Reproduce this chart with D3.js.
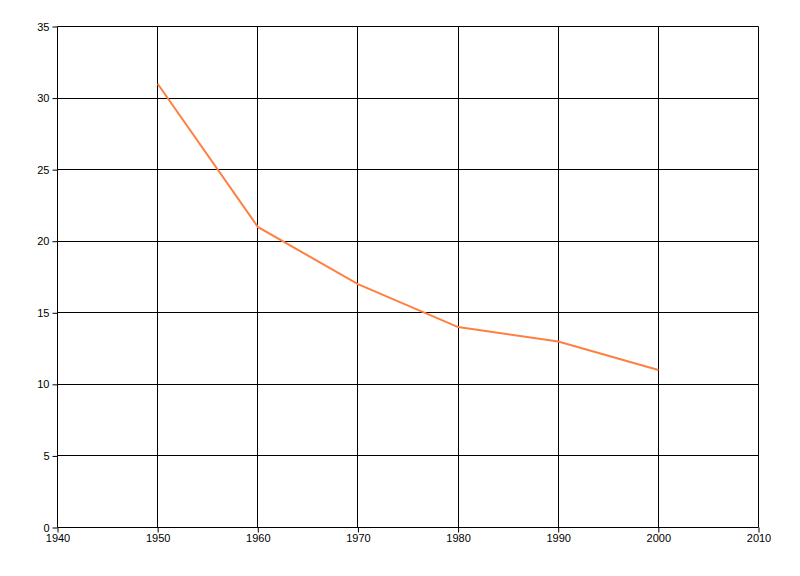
<!DOCTYPE html>
<html>
<head>
<meta charset="utf-8">
<script src="https://cdn.jsdelivr.net/npm/d3@7"></script>
<style>
body{margin:0;background:#fff;}
svg{display:block;}
.tick text{font-family:"Liberation Sans",Arial,sans-serif;font-size:11px;fill:#000;}
</style>
</head>
<body>
<svg id="svg" width="800" height="576"></svg>
<script>
var years=[1950,1960,1970,1980,1990,2000];
var values=[31,21,17,14,13,11];
var xTicks=[1940,1950,1960,1970,1980,1990,2000,2010];
var yTicks=[0,5,10,15,20,25,30,35];

var svg=d3.select('#svg');
var padding={top:26.5,right:41.5,bottom:48.5,left:57.5};
var chartArea={
    width:800-padding.left-padding.right,
    height:576-padding.top-padding.bottom
};

var xScale=d3.scaleLinear().domain([1940,2010]).range([0,chartArea.width]);
var yScale=d3.scaleLinear().domain([0,35]).range([chartArea.height,0]);

var g=svg.append('g').attr('transform','translate('+padding.left+','+padding.top+')');

// grid
g.append('g').selectAll('line').data(xTicks).enter().append('line')
    .attr('x1',function(d){return Math.round(xScale(d));})
    .attr('x2',function(d){return Math.round(xScale(d));})
    .attr('y1',0).attr('y2',chartArea.height)
    .attr('stroke','#000').attr('stroke-width',1);
g.append('g').selectAll('line').data(yTicks).enter().append('line')
    .attr('y1',function(d){return Math.round(yScale(d));})
    .attr('y2',function(d){return Math.round(yScale(d));})
    .attr('x1',0).attr('x2',chartArea.width)
    .attr('stroke','#000').attr('stroke-width',1);

// axes
var xAxis=g.append('g').attr('transform','translate(0,'+chartArea.height+')')
    .call(d3.axisBottom(xScale).tickValues(xTicks).tickFormat(d3.format('d')).tickSize(5).tickPadding(2));
var yAxis=g.append('g')
    .call(d3.axisLeft(yScale).tickValues(yTicks).tickSize(5).tickPadding(3));
xAxis.select('.domain').remove();
yAxis.select('.domain').remove();
g.selectAll('.tick line').attr('stroke','#000');

// series
var line=d3.line()
    .x(function(d,i){return xScale(years[i]);})
    .y(function(d){return yScale(d);});
g.append('path').datum(values)
    .attr('d',line)
    .attr('fill','none')
    .attr('stroke','#ff7f40')
    .attr('stroke-width',2);
</script>
</body>
</html>
